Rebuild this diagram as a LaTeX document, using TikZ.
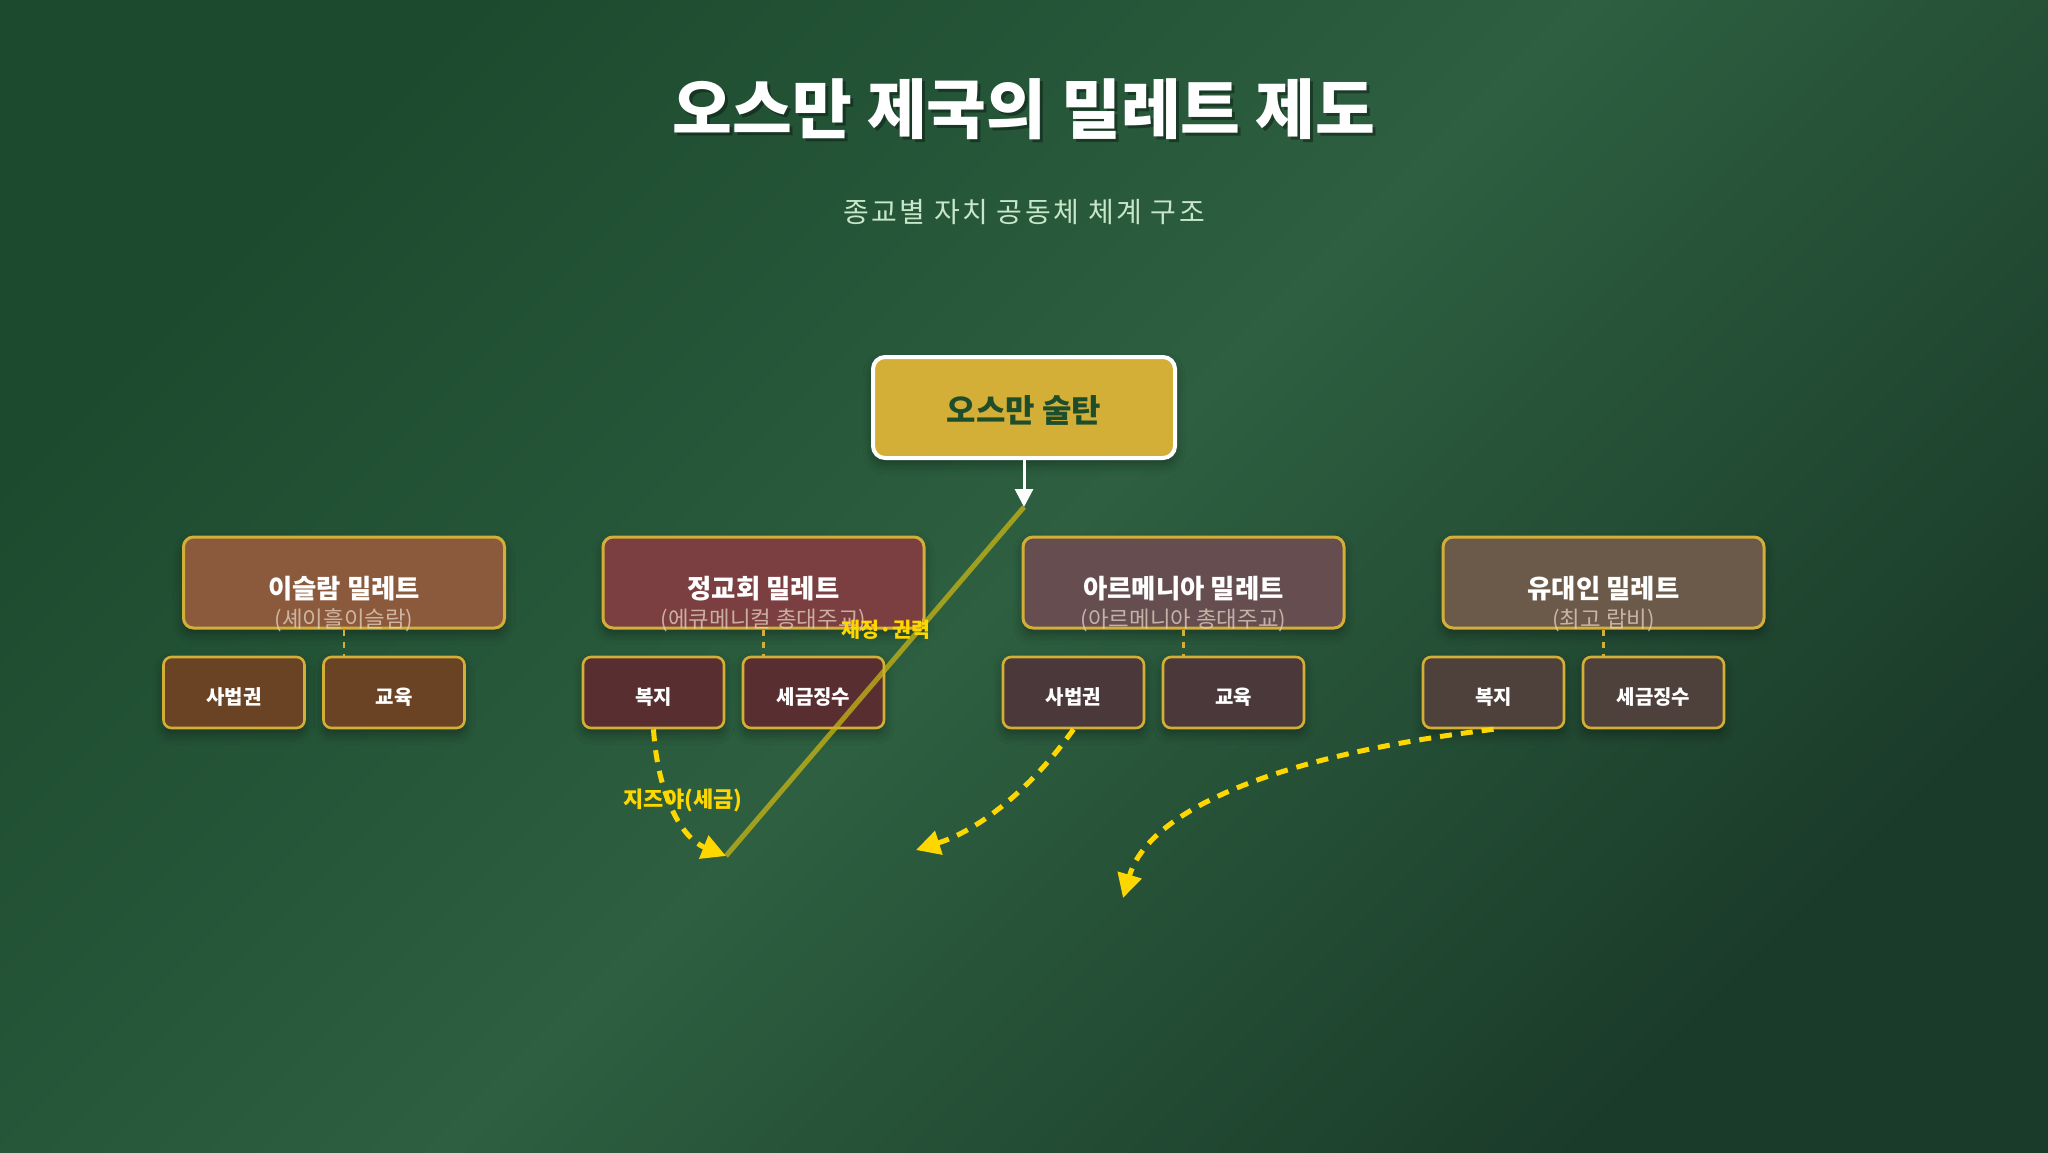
\documentclass[tikz,border=0pt]{standalone}
\usepackage{fontspec}
\setmainfont{Noto Sans CJK KR}
\newfontfamily\krspaced[LetterSpace=9]{Noto Sans CJK KR}
\usetikzlibrary{arrows.meta,shadows.blur}
\definecolor{gold}{HTML}{D4AF37}
\definecolor{ylw}{HTML}{FFD700}
\definecolor{olive}{HTML}{C9B515}
\definecolor{dkgreen}{HTML}{1E4D2B}
\definecolor{mint}{HTML}{C8E6C9}
\definecolor{beige}{HTML}{E6D3C4}
\definecolor{bgA}{HTML}{1C4A2E}
\definecolor{bgB}{HTML}{2D5F40}
\definecolor{bgC}{HTML}{1A3B29}
\definecolor{islamA}{HTML}{8B5A3C}
\definecolor{islamB}{HTML}{6A4224}
\definecolor{orthoA}{HTML}{7B3F41}
\definecolor{orthoB}{HTML}{582E30}
\definecolor{armA}{HTML}{654D50}
\definecolor{armB}{HTML}{4A383A}
\definecolor{jewA}{HTML}{6B594A}
\definecolor{jewB}{HTML}{4E403A}
\pgfdeclarehorizontalshading{bgshade}{100bp}{color(0bp)=(bgA); color(25bp)=(bgA); color(50bp)=(bgB); color(75bp)=(bgC); color(100bp)=(bgC)}
\tikzset{
  boxshadow/.style={blur shadow={shadow blur steps=6, shadow xshift=0pt, shadow yshift=-3pt, shadow opacity=35, shadow blur radius=5pt}},
  sultanbox/.style={draw=white, line width=2pt, fill=gold, rounded corners=6pt, minimum width=151pt, minimum height=50.5pt, boxshadow},
  sultantext/.style={text=dkgreen, inner sep=0pt, font=\bfseries\fontsize{16}{19}\selectfont},
  milletbox/.style={draw=gold, line width=1.5pt, rounded corners=5pt, minimum width=160.5pt, minimum height=45.5pt, boxshadow},
  subbox/.style={draw=gold, line width=1.3pt, rounded corners=4pt, minimum width=70.5pt, minimum height=35.5pt, boxshadow},
  subtext/.style={text=white, inner sep=0pt, font=\bfseries\fontsize{10}{12}\selectfont},
  mtitle/.style={text=white, inner sep=0pt, font=\bfseries\fontsize{13.2}{15}\selectfont},
  msub/.style={text=beige, text opacity=0.75, inner sep=0pt, font=\fontsize{11.2}{13}\selectfont},
  linkline/.style={draw=gold, line width=1.2pt, dash pattern=on 3pt off 3pt},
  yarrow/.style={draw=ylw, line width=2.5pt, dash pattern=on 6pt off 4.5pt, -{Triangle[length=12pt,width=12pt]}},
  ylabel/.style={text=ylw, inner sep=0pt, font=\bfseries\fontsize{11}{13}\selectfont}
}
\begin{document}
\begin{tikzpicture}[x=0.5pt,y=-0.5pt]
\useasboundingbox (0,0) rectangle (2048,1152);
\shade[shading=bgshade, shading angle=-45] (0,0) rectangle (2048,1152);
% title
\node[text=black, text opacity=0.35, inner sep=0pt, font=\bfseries\fontsize{32.5}{38}\selectfont] at (1027,112) {오스만 제국의 밀레트 제도};
\node (title) [text=white, inner sep=0pt, font=\bfseries\fontsize{32.5}{38}\selectfont] at (1024,109) {오스만 제국의 밀레트 제도};
\node (subtitle) [text=mint, inner sep=0pt, font=\krspaced\fontsize{14}{17}\selectfont] at (1024,212) {종교별 자치 공동체 체계 구조};
% sultan
\node (sultan) [sultanbox] at (1024,407.5) {};
\node (sultan-t) [sultantext] at (1024,410) {오스만 술탄};
\coordinate (tip) at (1024,507);
\coordinate (hub) at (726,856);
% millets
\foreach \n/\cx/\fa/\fb/\t/\s/\la/\lb in {
  is/344/islamA/islamB/이슬람 밀레트/(셰이흘이슬람)/사법권/교육,
  or/763.5/orthoA/orthoB/정교회 밀레트/(에큐메니컬 총대주교)/복지/세금징수,
  ar/1183.5/armA/armB/아르메니아 밀레트/(아르메니아 총대주교)/사법권/교육,
  je/1603.5/jewA/jewB/유대인 밀레트/(최고 랍비)/복지/세금징수}{
  \node (\n) [milletbox, fill=\fa] at (\cx,582.5) {};
  \node (\n-l) [subbox, fill=\fb] at (\cx-110,692.5) {};
  \node (\n-r) [subbox, fill=\fb] at (\cx+50,692.5) {};
  \node (\n-lt) [subtext] at (\cx-110,697) {\la};
  \node (\n-rt) [subtext] at (\cx+50,697) {\lb};
  \draw[linkline] (\n.south) -- (\n.south |- \n-r.north);
  \node (\n-t) [mtitle] at (\cx,589) {\t};
  \node (\n-s) [msub] at (\cx,620) {\s};
}
% sultan arrow and olive line
\draw[draw=white, line width=1.5pt, -{Triangle[length=9pt,width=9pt]}] (sultan.south) -- (tip);
\draw[draw=olive, line width=2.5pt, draw opacity=0.75] (tip) -- (hub);
\node (fin) [ylabel, font=\bfseries\fontsize{10.3}{12}\selectfont] at (886,630) {재정·권력};
% yellow dashed arrows
\draw[yarrow] (or-l.south) .. controls (657.8,796) and (682,838.3) .. (hub);
\node (jizya) [ylabel] at (683,800) {지즈야(세금)};
\coordinate (e2) at (916,850);
\draw[yarrow] (ar-l.south) .. controls (1031,789) and (979,830) .. (e2);
\coordinate (e3) at (1123,898);
\draw[yarrow] (je-l.south) .. controls (1271,756) and (1148,812) .. (e3);
\end{tikzpicture}
\end{document}
